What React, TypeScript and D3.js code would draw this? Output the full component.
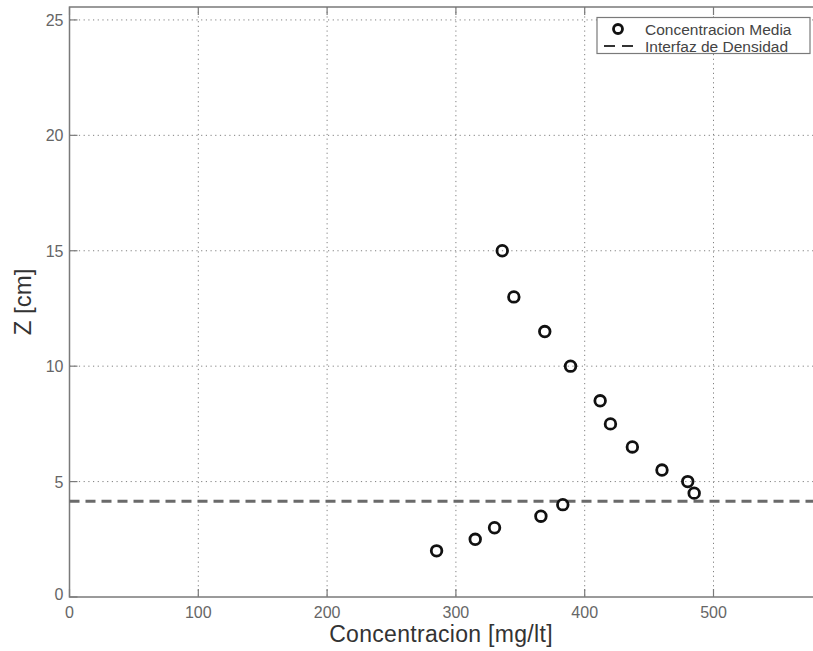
import React, { useEffect, useRef } from "react";
import * as d3 from "d3";

// mean concentration [mg/lt] at each height z [cm]
const concentration = [336, 345, 369, 389, 412, 420, 437, 460, 480, 485, 383, 366, 330, 315, 285];
const heights = [15, 13, 11.5, 10, 8.5, 7.5, 6.5, 5.5, 5, 4.5, 4, 3.5, 3, 2.5, 2];
const interfaceZ = [4.15];
const xTicks = [0, 100, 200, 300, 400, 500];
const yTicks = [0, 5, 10, 15, 20, 25];
const legendLabels = ["Concentracion Media", "Interfaz de Densidad"];

const W = 813;
const H = 651;

const App = () => {
  const svgRef = useRef<SVGSVGElement>(null);

  useEffect(() => {
    const svg = d3.select(svgRef.current);
    svg.selectAll("*").remove();

    const left = 69.5;
    const top = 7;
    const bottom = 597;
    const right = left + 580 * 1.288;

    const x = d3.scaleLinear().domain([0, 580]).range([left, right]);
    const y = d3.scaleLinear().domain([0, 25.56]).range([bottom, top]);

    const font = "'Liberation Sans', Arial, sans-serif";

    svg.append("rect").attr("width", W).attr("height", H).attr("fill", "#fff");

    // grid
    const grid = svg.append("g").attr("stroke", "#808080").attr("stroke-width", 1)
      .attr("stroke-dasharray", "1.2,3.5");
    grid.selectAll(".gx").data(xTicks.filter((d) => d > 0)).enter().append("line")
      .attr("x1", (d) => x(d)).attr("x2", (d) => x(d))
      .attr("y1", top).attr("y2", bottom);
    grid.selectAll(".gy").data(yTicks.filter((d) => d > 0)).enter().append("line")
      .attr("x1", left).attr("x2", right)
      .attr("y1", (d) => y(d)).attr("y2", (d) => y(d));

    // axes box
    svg.append("rect")
      .attr("x", left).attr("y", top)
      .attr("width", right - left).attr("height", bottom - top)
      .attr("fill", "none").attr("stroke", "#7a7a7a").attr("stroke-width", 1.5);

    // ticks (inside)
    const tk = svg.append("g").attr("stroke", "#7a7a7a").attr("stroke-width", 1.2);
    tk.selectAll(".tx").data(xTicks).enter().append("line")
      .attr("x1", (d) => x(d)).attr("x2", (d) => x(d))
      .attr("y1", bottom).attr("y2", bottom - 8);
    tk.selectAll(".tx2").data(xTicks).enter().append("line")
      .attr("x1", (d) => x(d)).attr("x2", (d) => x(d))
      .attr("y1", top).attr("y2", top + 8);
    tk.selectAll(".ty").data(yTicks).enter().append("line")
      .attr("x1", left).attr("x2", left + 8)
      .attr("y1", (d) => y(d)).attr("y2", (d) => y(d));

    svg.selectAll(".xl").data(xTicks).enter().append("text")
      .attr("x", (d) => x(d)).attr("y", 618)
      .attr("text-anchor", "middle")
      .style("font-family", font).style("font-size", "16px").style("fill", "#666")
      .text((d) => d);
    svg.selectAll(".yl").data(yTicks).enter().append("text")
      .attr("x", left - 6).attr("y", (d) => y(d) + 6 - (d === 0 ? 3 : 0))
      .attr("text-anchor", "end")
      .style("font-family", font).style("font-size", "16px").style("fill", "#666")
      .text((d) => d);

    // axis titles
    svg.append("text")
      .attr("x", (left + right) / 2 - 2).attr("y", 642)
      .attr("text-anchor", "middle")
      .style("font-family", font).style("font-size", "23px").style("fill", "#333")
      .style("letter-spacing", "0.3px")
      .text("Concentracion [mg/lt]");
    svg.append("text")
      .attr("transform", `translate(31, ${(top + bottom) / 2}) rotate(-90)`)
      .attr("text-anchor", "middle")
      .style("font-family", font).style("font-size", "24px").style("fill", "#333")
      .text("Z [cm]");

    // density interface
    svg.selectAll(".iface").data(interfaceZ).enter().append("line")
      .attr("x1", left).attr("x2", right)
      .attr("y1", (d) => y(d)).attr("y2", (d) => y(d))
      .attr("stroke", "#6a6a6a").attr("stroke-width", 3)
      .attr("stroke-dasharray", "10,6");

    // points
    svg.selectAll(".pt").data(heights).enter().append("circle")
      .attr("cx", (d, i) => x(concentration[i])).attr("cy", (d) => y(d))
      .attr("r", 5.3).attr("fill", "none")
      .attr("stroke", "#111").attr("stroke-width", 2.8);

    // legend
    const lg = svg.append("g");
    lg.append("rect").attr("x", 597).attr("y", 17.5).attr("width", 213).attr("height", 36)
      .attr("fill", "#fff").attr("stroke", "#7a7a7a").attr("stroke-width", 1.2);
    lg.append("circle").attr("cx", 618).attr("cy", 29).attr("r", 4.5)
      .attr("fill", "none").attr("stroke", "#111").attr("stroke-width", 2.8);
    lg.append("line").attr("x1", 604).attr("x2", 634).attr("y1", 46).attr("y2", 46)
      .attr("stroke", "#333").attr("stroke-width", 2.2).attr("stroke-dasharray", "11,7");
    lg.selectAll(".lt").data(legendLabels).enter().append("text")
      .attr("x", 645).attr("y", (d, i) => 34.5 + i * 17)
      .style("font-family", font).style("font-size", "15.5px").style("fill", "#444")
      .text((d) => d);
  }, []);

  return (
    <svg
      ref={svgRef}
      width={W}
      height={H}
      style={{ position: "absolute", left: 0, top: 0 }}
    ></svg>
  );
};

export default App;
